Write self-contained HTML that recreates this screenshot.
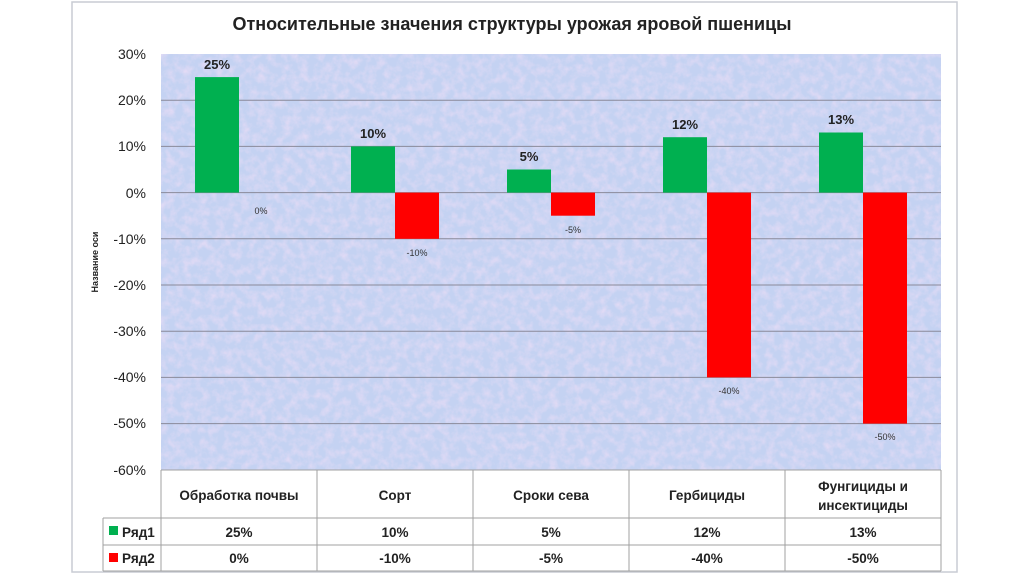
<!DOCTYPE html>
<html><head><meta charset="utf-8"><style>
body{margin:0;background:#fff;}
svg{display:block;font-family:"Liberation Sans","Noto Sans CJK SC",sans-serif;}
</style></head><body>
<svg width="1024" height="574" viewBox="0 0 1024 574" xmlns="http://www.w3.org/2000/svg">
<defs>
<filter id="tex" x="0" y="0" width="100%" height="100%">
<feTurbulence type="fractalNoise" baseFrequency="0.12" numOctaves="3" seed="3" result="n"/>
<feColorMatrix in="n" type="matrix" values="0 0 0 0 0.88  0 0 0 0 0.74  0 0 0 0 0.93  0 0 0 1.6 -0.6"/>
</filter>
</defs>
<rect x="72" y="2" width="885" height="570" fill="#fff" stroke="#c8ccd4" stroke-width="1.5"/>
<text x="512" y="30" text-anchor="middle" font-size="18" font-weight="bold" fill="#222">Относительные значения структуры урожая яровой пшеницы</text>
<rect x="161" y="54" width="780" height="416" fill="#c4d2f2"/>
<rect x="161" y="54" width="780" height="416" filter="url(#tex)" opacity="0.75"/>
<g stroke="#8a8a9a" stroke-width="1">
<line x1="161" y1="100.2" x2="941" y2="100.2"/><line x1="161" y1="146.4" x2="941" y2="146.4"/>
<line x1="161" y1="192.6" x2="941" y2="192.6"/><line x1="161" y1="238.8" x2="941" y2="238.8"/>
<line x1="161" y1="285" x2="941" y2="285"/><line x1="161" y1="331.2" x2="941" y2="331.2"/>
<line x1="161" y1="377.4" x2="941" y2="377.4"/><line x1="161" y1="423.6" x2="941" y2="423.6"/>
</g>
<g font-size="14" fill="#222" text-anchor="end">
<text x="146" y="59">30%</text><text x="146" y="105">20%</text><text x="146" y="151">10%</text>
<text x="146" y="198">0%</text><text x="146" y="244">-10%</text><text x="146" y="290">-20%</text>
<text x="146" y="336">-30%</text><text x="146" y="382">-40%</text><text x="146" y="428">-50%</text>
<text x="146" y="475">-60%</text>
</g>
<text transform="translate(98,262) rotate(-90)" text-anchor="middle" font-size="9" font-weight="bold" fill="#222">Название оси</text>
<g fill="#00b050">
<rect x="195" y="77.1" width="44" height="115.5"/>
<rect x="351" y="146.4" width="44" height="46.2"/>
<rect x="507" y="169.5" width="44" height="23.1"/>
<rect x="663" y="137.2" width="44" height="55.4"/>
<rect x="819" y="132.5" width="44" height="60.1"/>
</g>
<g fill="#ff0000">
<rect x="395" y="192.6" width="44" height="46.2"/>
<rect x="551" y="192.6" width="44" height="23.1"/>
<rect x="707" y="192.6" width="44" height="184.8"/>
<rect x="863" y="192.6" width="44" height="231"/>
</g>
<g font-size="13" font-weight="bold" fill="#222" text-anchor="middle">
<text x="217" y="69">25%</text><text x="373" y="138">10%</text><text x="529" y="161">5%</text>
<text x="685" y="129">12%</text><text x="841" y="124">13%</text>
</g>
<g font-size="9" fill="#333" text-anchor="middle">
<text x="261" y="214">0%</text><text x="417" y="256">-10%</text><text x="573" y="233">-5%</text>
<text x="729" y="394">-40%</text><text x="885" y="440">-50%</text>
</g>
<g stroke="#a0a0a0" stroke-width="1" fill="none">
<line x1="161" y1="470" x2="941" y2="470"/>
<line x1="103" y1="518" x2="941" y2="518"/>
<line x1="103" y1="545" x2="941" y2="545"/>
<line x1="103" y1="571" x2="941" y2="571"/>
<line x1="103" y1="518" x2="103" y2="571"/>
<line x1="161" y1="470" x2="161" y2="571"/><line x1="317" y1="470" x2="317" y2="571"/>
<line x1="473" y1="470" x2="473" y2="571"/><line x1="629" y1="470" x2="629" y2="571"/>
<line x1="785" y1="470" x2="785" y2="571"/><line x1="941" y1="470" x2="941" y2="571"/>
</g>
<g font-size="13.5" font-weight="bold" fill="#222" text-anchor="middle">
<text x="239" y="500">Обработка почвы</text><text x="395" y="500">Сорт</text>
<text x="551" y="500">Сроки сева</text><text x="707" y="500">Гербициды</text>
<text x="863" y="491">Фунгициды и</text><text x="863" y="510">инсектициды</text>
<text x="239" y="537">25%</text><text x="395" y="537">10%</text><text x="551" y="537">5%</text>
<text x="707" y="537">12%</text><text x="863" y="537">13%</text>
<text x="239" y="563">0%</text><text x="395" y="563">-10%</text><text x="551" y="563">-5%</text>
<text x="707" y="563">-40%</text><text x="863" y="563">-50%</text>
</g>
<rect x="109" y="526" width="9" height="9" fill="#00b050"/>
<rect x="109" y="553" width="9" height="9" fill="#ff0000"/>
<g font-size="13.5" font-weight="bold" fill="#222">
<text x="122" y="537">Ряд1</text><text x="122" y="563">Ряд2</text>
</g>
</svg>
</body></html>
